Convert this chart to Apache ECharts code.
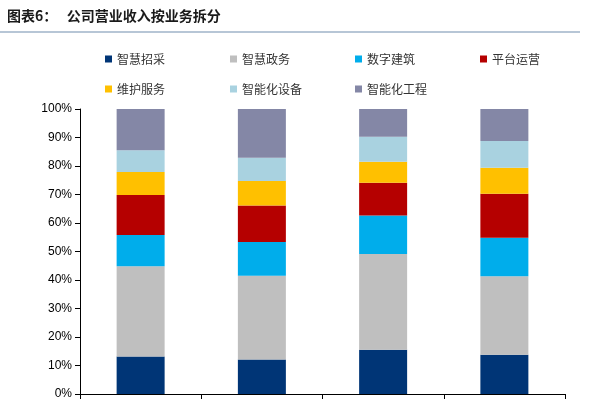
<!DOCTYPE html>
<html>
<head>
<meta charset="utf-8">
<script src="https://cdn.jsdelivr.net/npm/echarts@6/dist/echarts.min.js"></script>
<style>
  body { margin: 0; background: #fff; }
  #chart { width: 600px; height: 400px; }
</style>
</head>
<body>
<div id="chart"></div>
<script>
// categories are cut off in the reference; years are placeholders
const categories = ['2018', '2019', '2020', '2021'];
const seriesNames = ['智慧招采', '智慧政务', '数字建筑', '平台运营', '维护服务', '智能化设备', '智能化工程'];
const colors = ['#003576', '#bfbfbf', '#00adeb', '#b50000', '#ffc000', '#a9d2e0', '#8487a6'];
const zhcc = [13.2, 12.1, 15.5, 13.8];
const zhzw = [31.6, 29.4, 33.6, 27.5];
const szjz = [11.0, 11.8, 13.5, 13.5];
const ptyy = [14.0, 12.8, 11.5, 15.5];
const whfw = [8.1, 8.6, 7.4, 9.1];
const znhsb = [7.6, 8.2, 8.8, 9.4];
const znhgc = [14.5, 17.1, 9.7, 11.2];
const values = [zhcc, zhzw, szjz, ptyy, whfw, znhsb, znhgc];

// one legend per item to get the 4 + 3 grid
const legendX = [100, 225, 350, 475];
const legends = seriesNames.map((name, i) => ({
  data: [name],
  left: legendX[i % 4], top: i < 4 ? 48 : 78,
  itemWidth: 7, itemHeight: 7, icon: 'rect',
  textStyle: { fontSize: 12, color: '#333', fontFamily: 'Noto Sans CJK SC' }
}));

const chart = echarts.init(document.getElementById('chart'));
chart.setOption({
  animation: false,
  title: {
    text: '图表6：   公司营业收入按业务拆分',
    left: 2, top: 4,
    textStyle: { fontSize: 14, fontWeight: 'bold', color: '#1a1a1a', fontFamily: 'Noto Sans CJK SC' }
  },
  graphic: [{
    type: 'line', shape: { x1: 0, y1: 32, x2: 580, y2: 32 },
    style: { stroke: '#9fb3c8', lineWidth: 1.5 }
  }],
  legend: legends,
  grid: { left: 80, right: 35, top: 109, bottom: 2 },
  xAxis: {
    type: 'category', data: categories,
    axisLine: { lineStyle: { color: '#000' } },
    axisTick: { show: true }, axisLabel: { show: false }
  },
  yAxis: {
    type: 'value', min: 0, max: 100, interval: 10,
    axisLine: { show: true, lineStyle: { color: '#000' } },
    axisTick: { show: true, inside: false },
    splitLine: { show: false },
    axisLabel: { formatter: '{value}%', color: '#000', fontSize: 12, fontFamily: 'Liberation Sans' }
  },
  series: seriesNames.map((name, i) => ({
    name, type: 'bar', stack: 'total', barWidth: 48,
    itemStyle: { color: colors[i] },
    data: values[i]
  }))
});
</script>
</body>
</html>
